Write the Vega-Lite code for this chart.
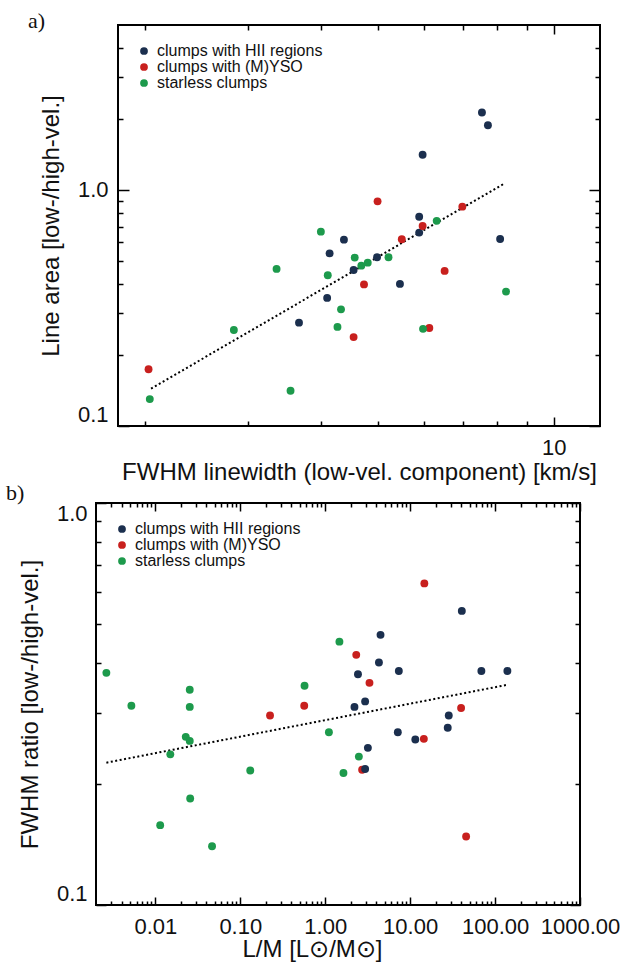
{
  "$schema": "https://vega.github.io/schema/vega-lite/v6.json",
  "padding": {"left": 5, "top": 9, "right": 0, "bottom": 0},
  "background": "white",
  "datasets": {
    "pa": [
      {"x": 7.54, "y": 2.13, "cls": "clumps with HII regions"},
      {"x": 7.72, "y": 1.88, "cls": "clumps with HII regions"},
      {"x": 5.97, "y": 1.41, "cls": "clumps with HII regions"},
      {"x": 5.89, "y": 0.77, "cls": "clumps with HII regions"},
      {"x": 5.89, "y": 0.66, "cls": "clumps with HII regions"},
      {"x": 4.38, "y": 0.616, "cls": "clumps with HII regions"},
      {"x": 8.10, "y": 0.62, "cls": "clumps with HII regions"},
      {"x": 4.14, "y": 0.539, "cls": "clumps with HII regions"},
      {"x": 4.99, "y": 0.519, "cls": "clumps with HII regions"},
      {"x": 4.55, "y": 0.458, "cls": "clumps with HII regions"},
      {"x": 5.46, "y": 0.40, "cls": "clumps with HII regions"},
      {"x": 4.10, "y": 0.349, "cls": "clumps with HII regions"},
      {"x": 3.67, "y": 0.274, "cls": "clumps with HII regions"},
      {"x": 5.0, "y": 0.895, "cls": "clumps with (M)YSO"},
      {"x": 6.98, "y": 0.85, "cls": "clumps with (M)YSO"},
      {"x": 5.97, "y": 0.704, "cls": "clumps with (M)YSO"},
      {"x": 5.50, "y": 0.618, "cls": "clumps with (M)YSO"},
      {"x": 6.51, "y": 0.454, "cls": "clumps with (M)YSO"},
      {"x": 4.74, "y": 0.398, "cls": "clumps with (M)YSO"},
      {"x": 6.13, "y": 0.26, "cls": "clumps with (M)YSO"},
      {"x": 4.55, "y": 0.238, "cls": "clumps with (M)YSO"},
      {"x": 2.03, "y": 0.174, "cls": "clumps with (M)YSO"},
      {"x": 6.31, "y": 0.74, "cls": "starless clumps"},
      {"x": 4.0, "y": 0.666, "cls": "starless clumps"},
      {"x": 4.57, "y": 0.517, "cls": "starless clumps"},
      {"x": 5.22, "y": 0.519, "cls": "starless clumps"},
      {"x": 4.69, "y": 0.478, "cls": "starless clumps"},
      {"x": 4.81, "y": 0.492, "cls": "starless clumps"},
      {"x": 4.11, "y": 0.435, "cls": "starless clumps"},
      {"x": 8.29, "y": 0.371, "cls": "starless clumps"},
      {"x": 4.33, "y": 0.312, "cls": "starless clumps"},
      {"x": 4.27, "y": 0.263, "cls": "starless clumps"},
      {"x": 5.98, "y": 0.258, "cls": "starless clumps"},
      {"x": 3.36, "y": 0.463, "cls": "starless clumps"},
      {"x": 2.84, "y": 0.255, "cls": "starless clumps"},
      {"x": 3.55, "y": 0.141, "cls": "starless clumps"},
      {"x": 2.04, "y": 0.130, "cls": "starless clumps"}
    ],
    "ta": [{"x": 2.05, "y": 0.144}, {"x": 8.26, "y": 1.07}],
    "pb": [
      {"x": 0.00265, "y": 0.378, "cls": "starless clumps"},
      {"x": 0.0254, "y": 0.343, "cls": "starless clumps"},
      {"x": 0.571, "y": 0.351, "cls": "starless clumps"},
      {"x": 0.00522, "y": 0.313, "cls": "starless clumps"},
      {"x": 0.0254, "y": 0.311, "cls": "starless clumps"},
      {"x": 0.0228, "y": 0.262, "cls": "starless clumps"},
      {"x": 0.0254, "y": 0.256, "cls": "starless clumps"},
      {"x": 0.015, "y": 0.237, "cls": "starless clumps"},
      {"x": 0.131, "y": 0.216, "cls": "starless clumps"},
      {"x": 0.0257, "y": 0.184, "cls": "starless clumps"},
      {"x": 0.0114, "y": 0.158, "cls": "starless clumps"},
      {"x": 0.0465, "y": 0.140, "cls": "starless clumps"},
      {"x": 1.105, "y": 0.269, "cls": "starless clumps"},
      {"x": 2.49, "y": 0.234, "cls": "starless clumps"},
      {"x": 1.64, "y": 0.213, "cls": "starless clumps"},
      {"x": 1.47, "y": 0.452, "cls": "starless clumps"},
      {"x": 0.566, "y": 0.313, "cls": "clumps with (M)YSO"},
      {"x": 0.224, "y": 0.296, "cls": "clumps with (M)YSO"},
      {"x": 3.32, "y": 0.357, "cls": "clumps with (M)YSO"},
      {"x": 14.5, "y": 0.259, "cls": "clumps with (M)YSO"},
      {"x": 39.8, "y": 0.309, "cls": "clumps with (M)YSO"},
      {"x": 2.72, "y": 0.217, "cls": "clumps with (M)YSO"},
      {"x": 45.6, "y": 0.148, "cls": "clumps with (M)YSO"},
      {"x": 14.7, "y": 0.631, "cls": "clumps with (M)YSO"},
      {"x": 2.32, "y": 0.419, "cls": "clumps with (M)YSO"},
      {"x": 2.95, "y": 0.321, "cls": "clumps with HII regions"},
      {"x": 2.21, "y": 0.311, "cls": "clumps with HII regions"},
      {"x": 7.16, "y": 0.269, "cls": "clumps with HII regions"},
      {"x": 11.5, "y": 0.258, "cls": "clumps with HII regions"},
      {"x": 28.5, "y": 0.296, "cls": "clumps with HII regions"},
      {"x": 27.7, "y": 0.276, "cls": "clumps with HII regions"},
      {"x": 3.18, "y": 0.246, "cls": "clumps with HII regions"},
      {"x": 2.95, "y": 0.218, "cls": "clumps with HII regions"},
      {"x": 40.6, "y": 0.539, "cls": "clumps with HII regions"},
      {"x": 4.48, "y": 0.470, "cls": "clumps with HII regions"},
      {"x": 4.29, "y": 0.401, "cls": "clumps with HII regions"},
      {"x": 2.43, "y": 0.375, "cls": "clumps with HII regions"},
      {"x": 7.36, "y": 0.382, "cls": "clumps with HII regions"},
      {"x": 69, "y": 0.382, "cls": "clumps with HII regions"},
      {"x": 139.6, "y": 0.382, "cls": "clumps with HII regions"}
    ],
    "tb": [{"x": 0.00265, "y": 0.226}, {"x": 139.6, "y": 0.353}],
    "sp": [{"k": 0}]
  },
  "vconcat": [
    {
      "hconcat": [
        {
          "width": 2,
          "height": 10,
          "view": {"stroke": null},
          "data": {"name": "sp"},
          "mark": {"type": "point", "opacity": 0},
          "encoding": {}
        },
        {
          "width": 482,
          "height": 401,
          "title": {"text": "a)", "anchor": "start", "frame": "group", "dx": -90, "dy": 22, "offset": -4, "baseline": "alphabetic", "font": "Liberation Serif", "fontSize": 22, "fontWeight": "normal", "color": "#111"},
          "layer": [
            {
              "data": {"name": "ta"},
              "mark": {"type": "line", "color": "black", "strokeDash": [2, 2.5], "strokeWidth": 2, "strokeCap": "butt"},
              "encoding": {
                "x": {"field": "x", "type": "quantitative", "scale": {"type": "log", "domain": [1.8, 12], "nice": false}, "axis": {"orient": "bottom", "values": [2, 3, 4, 5, 6, 7, 8, 9], "labels": false, "tickSize": -5, "title": null}},
                "y": {"field": "y", "type": "quantitative", "scale": {"type": "log", "domain": [0.1, 5], "nice": false}, "axis": {"orient": "left", "values": [0.2, 0.3, 0.4, 0.5, 0.6, 0.7, 0.8, 0.9, 2, 3, 4], "labels": false, "tickSize": -5, "title": null}}
              }
            },
            {
              "data": {"name": "pa"},
              "mark": {"type": "circle", "size": 62, "opacity": 1},
              "encoding": {
                "x": {"field": "x", "type": "quantitative", "scale": {"type": "log", "domain": [1.8, 12], "nice": false}, "axis": {"orient": "bottom", "values": [10], "format": "d", "tickSize": -9, "labelPadding": 20, "labelFlush": false, "title": "FWHM linewidth (low-vel. component) [km/s]", "titlePadding": 2}},
                "y": {"field": "y", "type": "quantitative", "scale": {"type": "log", "domain": [0.1, 5], "nice": false}, "axis": {"orient": "left", "values": [0.1, 1], "format": ".1f", "tickSize": -11, "labelPadding": 21, "labelFlush": true, "title": "Line area [low-/high-vel.]", "titlePadding": 14}},
                "color": {"field": "cls", "type": "nominal", "scale": {"domain": ["clumps with HII regions", "clumps with (M)YSO", "starless clumps"], "range": ["#1b2f4e", "#c8201e", "#1d9a4c"]}, "legend": {"title": null, "orient": "top-left", "offset": 18}}
              }
            },
            {
              "data": {"name": "pa"},
              "mark": {"type": "circle", "opacity": 0},
              "encoding": {
                "x": {"field": "x", "type": "quantitative", "scale": {"type": "log", "domain": [1.8, 12], "nice": false}, "axis": {"orient": "top", "values": [10], "labels": false, "tickSize": -9, "title": null}},
                "y": {"field": "y", "type": "quantitative", "scale": {"type": "log", "domain": [0.1, 5], "nice": false}, "axis": {"orient": "right", "values": [0.1, 1], "labels": false, "tickSize": -11, "title": null}}
              }
            },
            {
              "data": {"name": "pa"},
              "mark": {"type": "circle", "opacity": 0},
              "encoding": {
                "x": {"field": "x", "type": "quantitative", "scale": {"type": "log", "domain": [1.8, 12], "nice": false}, "axis": {"orient": "top", "values": [2, 3, 4, 5, 6, 7, 8, 9], "labels": false, "tickSize": -5, "title": null}},
                "y": {"field": "y", "type": "quantitative", "scale": {"type": "log", "domain": [0.1, 5], "nice": false}, "axis": {"orient": "right", "values": [0.2, 0.3, 0.4, 0.5, 0.6, 0.7, 0.8, 0.9, 2, 3, 4], "labels": false, "tickSize": -5, "title": null}}
              }
            }
          ],
          "resolve": {"axis": {"x": "independent", "y": "independent"}}
        }
      ],
      "bounds": "flush",
      "spacing": 20,
      "resolve": {"legend": {"color": "independent"}}
    },
    {
      "width": 484,
      "height": 402,
      "title": {"text": "b)", "anchor": "start", "frame": "group", "dx": -90, "dy": 16, "offset": -4, "baseline": "alphabetic", "font": "Liberation Serif", "fontSize": 22, "fontWeight": "normal", "color": "#111"},
      "layer": [
        {
          "data": {"name": "tb"},
          "mark": {"type": "line", "color": "black", "strokeDash": [2, 2.5], "strokeWidth": 2, "strokeCap": "butt"},
          "encoding": {
            "x": {"field": "x", "type": "quantitative", "scale": {"type": "log", "domain": [0.002, 1000], "nice": false}, "axis": {"orient": "bottom", "values": [0.003, 0.004, 0.005, 0.006, 0.007, 0.008, 0.009, 0.02, 0.03, 0.04, 0.05, 0.06, 0.07, 0.08, 0.09, 0.2, 0.3, 0.4, 0.5, 0.6, 0.7, 0.8, 0.9, 2, 3, 4, 5, 6, 7, 8, 9, 20, 30, 40, 50, 60, 70, 80, 90, 200, 300, 400, 500, 600, 700, 800, 900], "labels": false, "tickSize": -4, "title": null}},
            "y": {"field": "y", "type": "quantitative", "scale": {"type": "log", "domain": [0.1, 1], "nice": false}, "axis": {"orient": "left", "values": [0.2, 0.3, 0.4, 0.5, 0.6, 0.7, 0.8, 0.9], "labels": false, "tickSize": -5, "title": null}}
          }
        },
        {
          "data": {"name": "pb"},
          "mark": {"type": "circle", "size": 62, "opacity": 1},
          "encoding": {
            "x": {"field": "x", "type": "quantitative", "scale": {"type": "log", "domain": [0.002, 1000], "nice": false}, "axis": {"orient": "bottom", "values": [0.01, 0.1, 1, 10, 100, 1000], "format": ".2f", "tickSize": -8, "labelPadding": 19, "labelFlush": false, "title": "L/M [L⊙/M⊙]", "titlePadding": 0, "titleX": 216, "titleAlign": "center"}},
            "y": {"field": "y", "type": "quantitative", "scale": {"type": "log", "domain": [0.1, 1], "nice": false}, "axis": {"orient": "left", "values": [0.1, 1], "format": ".1f", "tickSize": -10, "labelPadding": 19, "labelFlush": true, "title": "FWHM ratio [low-/high-vel.]", "titlePadding": 14}},
            "color": {"field": "cls", "type": "nominal", "scale": {"domain": ["clumps with HII regions", "clumps with (M)YSO", "starless clumps"], "range": ["#1b2f4e", "#c8201e", "#1d9a4c"]}, "legend": {"title": null, "orient": "top-left", "offset": 18}}
          }
        },
        {
          "data": {"name": "pb"},
          "mark": {"type": "circle", "opacity": 0},
          "encoding": {
            "x": {"field": "x", "type": "quantitative", "scale": {"type": "log", "domain": [0.002, 1000], "nice": false}, "axis": {"orient": "top", "values": [0.01, 0.1, 1, 10, 100, 1000], "labels": false, "tickSize": -8, "title": null}},
            "y": {"field": "y", "type": "quantitative", "scale": {"type": "log", "domain": [0.1, 1], "nice": false}, "axis": {"orient": "right", "values": [0.1, 1], "labels": false, "tickSize": -10, "title": null}}
          }
        },
        {
          "data": {"name": "pb"},
          "mark": {"type": "circle", "opacity": 0},
          "encoding": {
            "x": {"field": "x", "type": "quantitative", "scale": {"type": "log", "domain": [0.002, 1000], "nice": false}, "axis": {"orient": "top", "values": [0.003, 0.004, 0.005, 0.006, 0.007, 0.008, 0.009, 0.02, 0.03, 0.04, 0.05, 0.06, 0.07, 0.08, 0.09, 0.2, 0.3, 0.4, 0.5, 0.6, 0.7, 0.8, 0.9, 2, 3, 4, 5, 6, 7, 8, 9, 20, 30, 40, 50, 60, 70, 80, 90, 200, 300, 400, 500, 600, 700, 800, 900], "labels": false, "tickSize": -4, "title": null}},
            "y": {"field": "y", "type": "quantitative", "scale": {"type": "log", "domain": [0.1, 1], "nice": false}, "axis": {"orient": "right", "values": [0.2, 0.3, 0.4, 0.5, 0.6, 0.7, 0.8, 0.9], "labels": false, "tickSize": -5, "title": null}}
          }
        }
      ],
      "resolve": {"axis": {"x": "independent", "y": "independent"}}
    }
  ],
  "spacing": -4,
  "resolve": {"legend": {"color": "independent"}},
  "config": {
    "view": {"stroke": "black", "strokeWidth": 2},
    "axis": {"domain": false, "grid": false, "tickColor": "#000", "tickWidth": 1.5, "labelFont": "Liberation Sans", "labelFontSize": 22, "labelColor": "#111", "titleFont": "Liberation Sans", "titleFontSize": 24, "titleFontWeight": "normal", "titleColor": "#111", "labelOverlap": false, "labelBound": false},
    "legend": {"labelFont": "Liberation Sans", "labelFontSize": 16, "labelColor": "#111", "labelLimit": 400, "symbolType": "circle", "symbolSize": 60, "symbolStrokeWidth": 0, "rowPadding": 0, "padding": 0, "labelOffset": 5}
  }
}
